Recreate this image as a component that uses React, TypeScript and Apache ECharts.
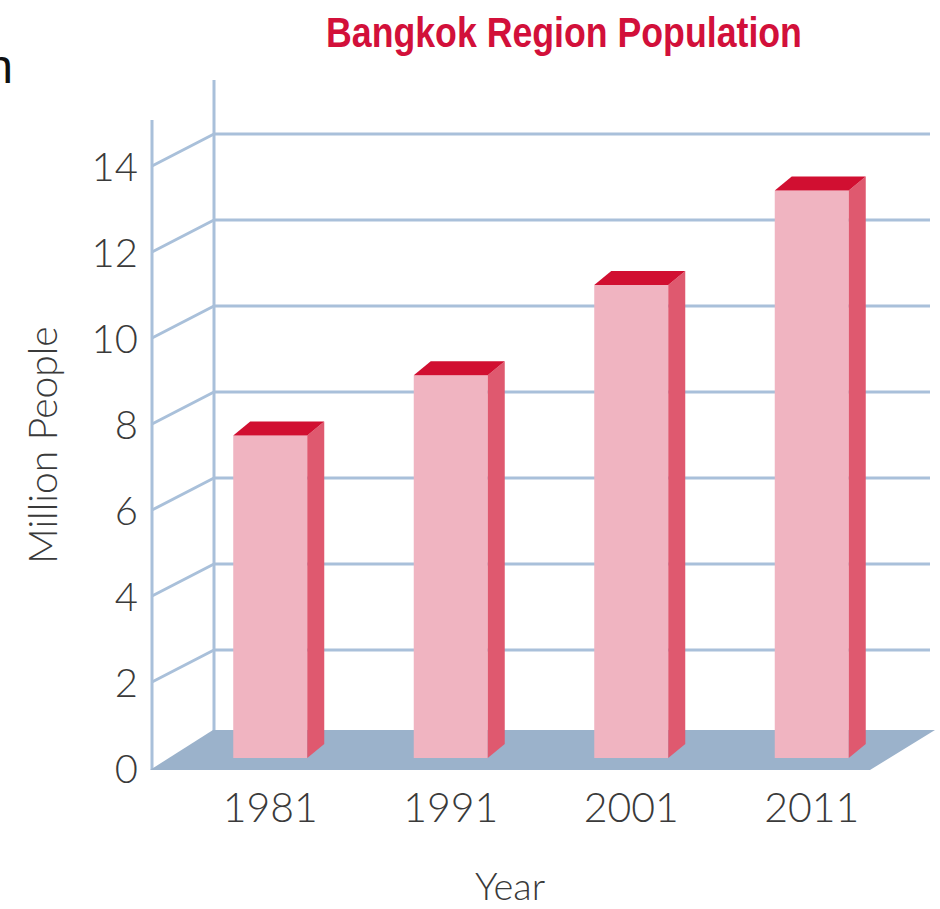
import React, { useEffect, useRef } from "react";
import * as echarts from "echarts";

// ---- data ----
const YEARS = ["1981", "1991", "2001", "2011"];
const POPULATION = [7.5, 8.9, 11.0, 13.2];
const Y_TICKS = [0, 2, 4, 6, 8, 10, 12, 14];
const TITLE = "Bangkok Region Population";
const Y_NAME = "Million People";
const X_NAME = "Year";
const CUT_TEXT = "n";

// ---- style ----
const GRID_COLOR = "#a9c0da";
const FLOOR_COLOR = "#9bb2cb";
const BAR_FRONT = "#f0b4c1";
const BAR_SIDE = "#df596f";
const BAR_TOP = "#d10f31";
const TITLE_COLOR = "#d2103a";
const TEXT_COLOR = "#3a3a3a";
const FONT = "Lato, 'DejaVu Sans', sans-serif";

export default function App() {
  const ref = useRef<HTMLDivElement>(null);

  useEffect(() => {
    if (!ref.current) return;
    const chart = echarts.init(ref.current, null, { renderer: "svg" });

    const wallRender = (params: any, api: any) => {
      const cs = params.coordSys;
      const v = api.value(1);
      const y = api.coord([0, v])[1];
      const frontX = cs.x - 28;
      const backX = cs.x + 34;
      const rightX = cs.x + cs.width + 28;
      const children: any[] = [];
      const lineStyle = { stroke: GRID_COLOR, lineWidth: 3 };
      if (v > 0) {
        children.push({
          type: "line",
          shape: { x1: frontX, y1: y + 10, x2: backX, y2: y - 22 },
          style: lineStyle,
        });
        children.push({
          type: "line",
          shape: { x1: backX, y1: y - 22, x2: rightX, y2: y - 22 },
          style: lineStyle,
        });
      }
      if (params.dataIndex === 0) {
        const yMax = api.coord([0, 14])[1];
        const y0 = api.coord([0, 0])[1];
        children.push({
          type: "line",
          shape: { x1: frontX, y1: yMax + 10 - 46, x2: frontX, y2: y0 + 12 },
          style: lineStyle,
        });
        children.push({
          type: "line",
          shape: { x1: backX, y1: yMax - 22 - 54, x2: backX, y2: y0 - 22 },
          style: lineStyle,
        });
      }
      return { type: "group", children };
    };

    const floorRender = (params: any, api: any) => {
      const cs = params.coordSys;
      const y0 = api.coord([0, 0])[1];
      const right = cs.x + cs.width;
      return {
        type: "polygon",
        shape: {
          points: [
            [cs.x - 30, y0 + 12],
            [cs.x + 33, y0 - 28],
            [right + 33, y0 - 28],
            [right - 32, y0 + 12],
          ],
        },
        style: { fill: FLOOR_COLOR },
      };
    };

    const barRender = (params: any, api: any) => {
      const idx = api.value(0);
      const val = api.value(1);
      const top = api.coord([idx, val]);
      const base = api.coord([idx, 0]);
      const w = api.size([1, 0])[0] * 0.41;
      const dx = 17;
      const dy = -14;
      const l = top[0] - w / 2;
      const r = top[0] + w / 2;
      const yt = top[1];
      const yb = base[1];
      return {
        type: "group",
        children: [
          {
            type: "rect",
            shape: { x: l, y: yt, width: w, height: yb - yt },
            style: { fill: BAR_FRONT },
          },
          {
            type: "polygon",
            shape: {
              points: [
                [r, yt],
                [r + dx, yt + dy],
                [r + dx, yb + dy],
                [r, yb],
              ],
            },
            style: { fill: BAR_SIDE },
          },
          {
            type: "polygon",
            shape: {
              points: [
                [l, yt],
                [l + dx, yt + dy],
                [r + dx, yt + dy],
                [r, yt],
              ],
            },
            style: { fill: BAR_TOP },
          },
        ],
      };
    };

    chart.setOption({
      animation: false,
      backgroundColor: "#ffffff",
      grid: [
        { left: 180, right: 38, top: 156, bottom: 151 },
        { left: 152, right: 38, top: 166, bottom: 141 },
      ],
      xAxis: [
        {
          type: "category",
          gridIndex: 0,
          data: YEARS,
          axisLine: { show: false },
          axisTick: { show: false },
          axisLabel: {
            margin: 28,
            fontSize: 41,
            fontFamily: FONT,
            fontWeight: 300,
            color: TEXT_COLOR,
          },
        },
        { type: "category", gridIndex: 1, data: YEARS, show: false },
      ],
      yAxis: [
        { type: "value", gridIndex: 0, min: 0, max: 14, interval: 2, show: false },
        {
          type: "value",
          gridIndex: 1,
          min: 0,
          max: 14,
          interval: 2,
          axisLine: { show: false },
          axisTick: { show: false },
          splitLine: { show: false },
          axisLabel: {
            margin: 14,
            fontSize: 40,
            fontFamily: FONT,
            fontWeight: 300,
            color: TEXT_COLOR,
          },
        },
      ],
      graphic: [
        {
          type: "text",
          x: 326,
          y: 32,
          scaleX: 0.85,
          style: {
            text: TITLE,
            fontSize: 42,
            fontWeight: "bold",
            fontFamily: "'Liberation Sans', Arial, sans-serif",
            fill: TITLE_COLOR,
            align: "left",
            verticalAlign: "middle",
          },
        },
        {
          type: "text",
          x: 42,
          y: 445,
          rotation: Math.PI / 2,
          style: {
            text: Y_NAME,
            fontSize: 39,
            fontFamily: FONT,
            fontWeight: 300,
            fill: TEXT_COLOR,
            align: "center",
            verticalAlign: "middle",
          },
        },
        {
          type: "text",
          x: 510,
          y: 885,
          style: {
            text: X_NAME,
            fontSize: 38,
            fontFamily: FONT,
            fontWeight: 300,
            fill: TEXT_COLOR,
            align: "center",
            verticalAlign: "middle",
          },
        },
        {
          type: "text",
          x: 13,
          y: 90,
          style: {
            text: CUT_TEXT,
            fontSize: 48,
            fontFamily: "'Liberation Sans', sans-serif",
            fill: "#111111",
            align: "right",
            verticalAlign: "bottom",
          },
        },
      ],
      series: [
        {
          type: "custom",
          name: "walls",
          xAxisIndex: 0,
          yAxisIndex: 0,
          clip: false,
          silent: true,
          z: 1,
          renderItem: wallRender,
          data: Y_TICKS.map((t) => [0, t]),
        },
        {
          type: "custom",
          name: "floor",
          xAxisIndex: 0,
          yAxisIndex: 0,
          clip: false,
          silent: true,
          z: 2,
          renderItem: floorRender,
          data: [[0, 0]],
        },
        {
          type: "custom",
          name: "Population",
          xAxisIndex: 0,
          yAxisIndex: 0,
          clip: false,
          z: 3,
          renderItem: barRender,
          data: POPULATION.map((v, i) => [i, v]),
        },
      ],
    });

    return () => chart.dispose();
  }, []);

  return (
    <div
      ref={ref}
      style={{ position: "fixed", left: 0, top: 0, width: 940, height: 909 }}
    />
  );
}
